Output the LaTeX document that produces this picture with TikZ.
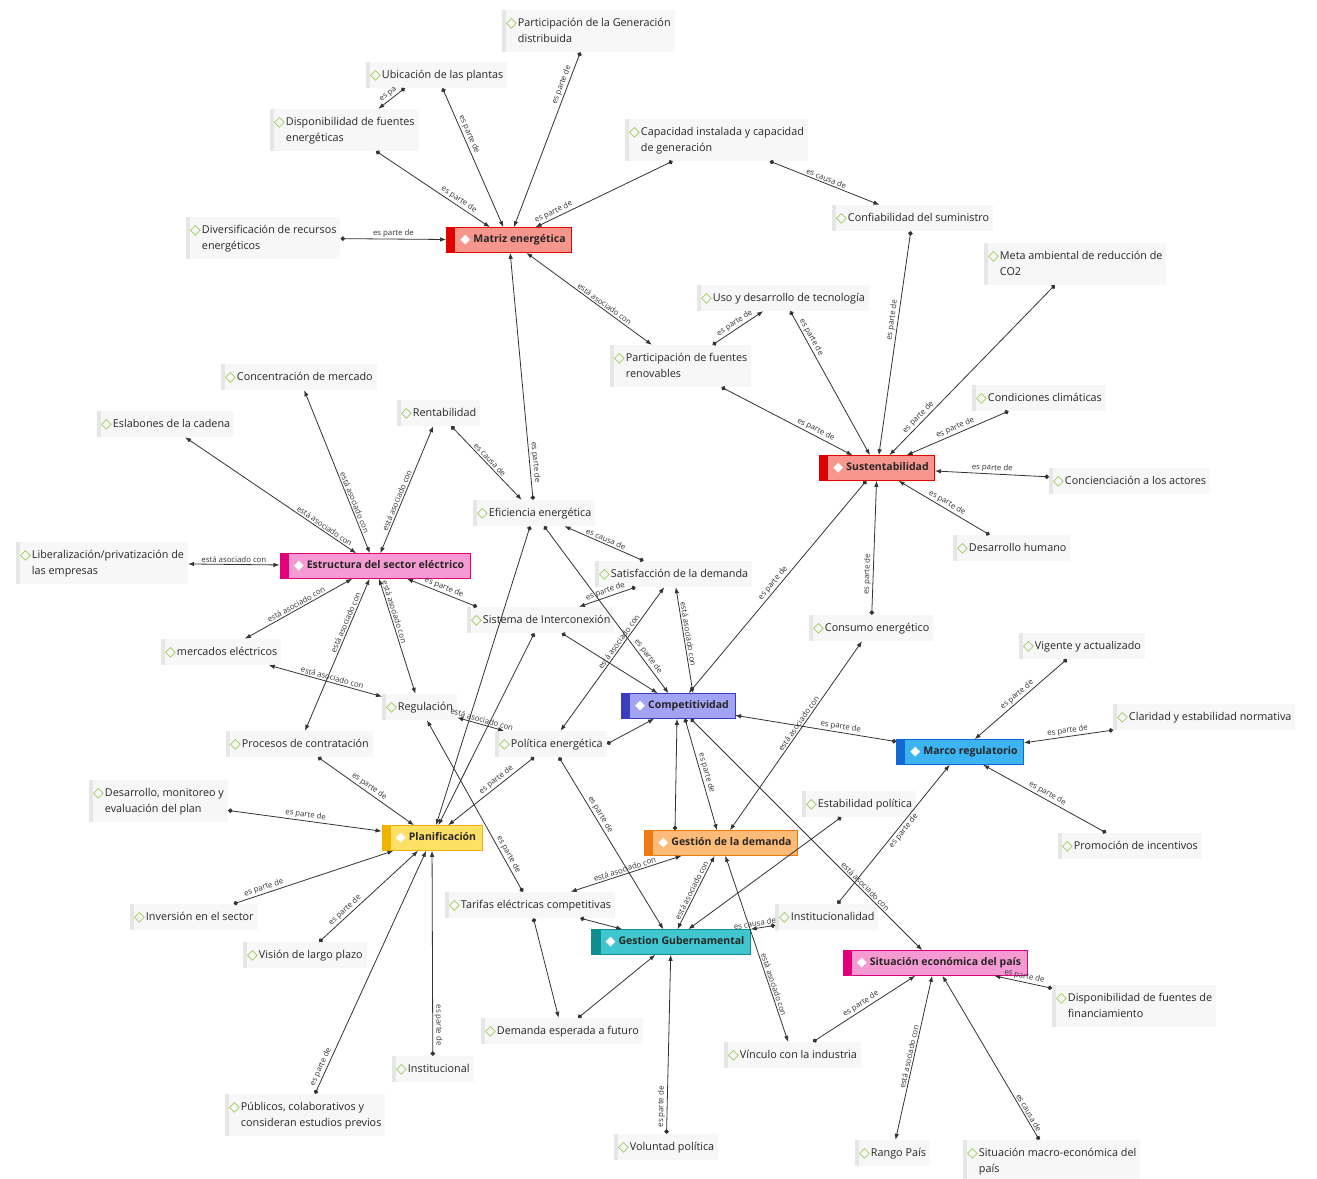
\documentclass[tikz,border=0pt]{standalone}
\usepackage{fontspec}
\setmainfont{Open Sans}
\newfontfamily\symfont{DejaVu Sans}
\usetikzlibrary{arrows.meta, positioning}

\definecolor{leafgreen}{HTML}{8CC63F}
\definecolor{leafbg}{HTML}{F7F7F7}
\definecolor{leafbar}{HTML}{E6E6E6}
\definecolor{linegray}{HTML}{333333}
\definecolor{salmonfill}{HTML}{F7968D}
\definecolor{salmonbar}{HTML}{E00000}
\definecolor{pinkfill}{HTML}{F59AD3}
\definecolor{pinkbar}{HTML}{E2007A}
\definecolor{lavfill}{HTML}{A3A3F5}
\definecolor{lavbar}{HTML}{3C3CC0}
\definecolor{skyfill}{HTML}{3DB4F2}
\definecolor{skybar}{HTML}{1068D0}
\definecolor{yelfill}{HTML}{FFE066}
\definecolor{yelbar}{HTML}{F0B400}
\definecolor{orfill}{HTML}{FDBB77}
\definecolor{orbar}{HTML}{F07A10}
\definecolor{tealfill}{HTML}{3FC6CE}
\definecolor{tealbar}{HTML}{0E8E90}

\newcommand{\leaffont}{\fontsize{10.8}{16}\selectfont}
\newcommand{\hubfont}{\fontsize{10.5}{12}\selectfont\bfseries}
\newcommand{\lblfont}{\fontsize{7.8}{8}\selectfont}
\newcommand{\lt}[1]{\raisebox{-1pt}{\fontsize{14}{14}\selectfont\symfont\color{leafgreen}\symbol{"25C7}}\hspace{1pt}\begin{tabular}[t]{@{}l@{}}#1\end{tabular}}
\newcommand{\hi}{\hspace*{8pt}\raisebox{-1pt}{\fontsize{13}{13}\selectfont\symfont\color{white}\symbol{"25C6}}\hspace{3pt}}

\begin{document}
\begin{tikzpicture}[x=1pt, y=-1pt]
        % Styles
        \tikzstyle{leaf} = [rectangle, fill=leafbg, anchor=west, inner xsep=4pt,
        inner ysep=5pt, font=\leaffont, text=black!85,
        path picture={\fill[leafbar] (path picture bounding box.south west)
        rectangle ([xshift=4pt]path picture bounding box.north west);}]
        \tikzset{hub/.style 2 args={rectangle, fill=#1, draw=#2, line width=0.6pt,
        minimum height=25pt, inner xsep=6pt, font=\hubfont, text=black!85,
        path picture={\fill[#2] (path picture bounding box.south west)
        rectangle ([xshift=9pt]path picture bounding box.north west);}}}
        \tikzstyle{part} = [draw=linegray, line width=0.8pt,
        {Circle[length=4.5pt]}-{Latex[length=6pt, width=4.5pt]}]
        \tikzstyle{asoc} = [draw=linegray, line width=0.8pt,
        {Latex[length=6pt, width=4.5pt]}-{Latex[length=6pt, width=4.5pt]}]
        \tikzstyle{lbl} = [font=\lblfont, text=black!80, sloped, above, inner sep=1.5pt]

        \fill[white] (0,0) rectangle (1317,1178);
        \useasboundingbox (0,0) rectangle (1317,1178);

        % Hubs
        \node (mat) [hub={salmonfill}{salmonbar}] at (509,240) {\hi Matriz energética};
        \node (sust) [hub={salmonfill}{salmonbar}] at (877,468) {\hi Sustentabilidad};
        \node (estr) [hub={pinkfill}{pinkbar}] at (375,566) {\hi Estructura del sector eléctrico};
        \node (comp) [hub={lavfill}{lavbar}] at (678,706) {\hi Competitividad};
        \node (marco) [hub={skyfill}{skybar}] at (960,752) {\hi Marco regulatorio};
        \node (plan) [hub={yelfill}{yelbar}] at (432,838) {\hi Planificación};
        \node (gdem) [hub={orfill}{orbar}] at (721,843) {\hi Gestión de la demanda};
        \node (ggub) [hub={tealfill}{tealbar}] at (671,942) {\hi Gestion Gubernamental};
        \node (sitec) [hub={pinkfill}{pinkbar}] at (935,963) {\hi Situación económica del país};

        % Leaves
        \node (gendis) [leaf] at (502,31) {\lt{Participación de la Generación\\distribuida}};
        \node (ubic) [leaf] at (366,75) {\lt{Ubicación de las plantas}};
        \node (dispo) [leaf] at (270,130) {\lt{Disponibilidad de fuentes\\energéticas}};
        \node (divers) [leaf] at (186,238) {\lt{Diversificación de recursos\\energéticos}};
        \node (capac) [leaf] at (625,140) {\lt{Capacidad instalada y capacidad\\de generación}};
        \node (confi) [leaf] at (832,218) {\lt{Confiabilidad del suministro}};
        \node (meta) [leaf] at (984,264) {\lt{Meta ambiental de reducción de\\CO2}};
        \node (uso) [leaf] at (697,298) {\lt{Uso y desarrollo de tecnología}};
        \node (renov) [leaf] at (610,366) {\lt{Participación de fuentes\\renovables}};
        \node (conc) [leaf] at (221,377) {\lt{Concentración de mercado}};
        \node (eslab) [leaf] at (97,424) {\lt{Eslabones de la cadena}};
        \node (rentab) [leaf] at (397,413) {\lt{Rentabilidad}};
        \node (clima) [leaf] at (972,398) {\lt{Condiciones climáticas}};
        \node (efic) [leaf] at (473,513) {\lt{Eficiencia energética}};
        \node (concien) [leaf] at (1049,481) {\lt{Concienciación a los actores}};
        \node (deshum) [leaf] at (953,548) {\lt{Desarrollo humano}};
        \node (liber) [leaf] at (16,563) {\lt{Liberalización/privatización de\\las empresas}};
        \node (satis) [leaf] at (595,574) {\lt{Satisfacción de la demanda}};
        \node (sist) [leaf] at (467,620) {\lt{Sistema de Interconexión}};
        \node (consumo) [leaf] at (809,628) {\lt{Consumo energético}};
        \node (merc) [leaf] at (161,652) {\lt{mercados eléctricos}};
        \node (vigente) [leaf] at (1019,646) {\lt{Vigente y actualizado}};
        \node (regul) [leaf] at (382,707) {\lt{Regulación}};
        \node (claridad) [leaf] at (1113,717) {\lt{Claridad y estabilidad normativa}};
        \node (polit) [leaf] at (495,744) {\lt{Política energética}};
        \node (proc) [leaf] at (226,744) {\lt{Procesos de contratación}};
        \node (desmon) [leaf] at (89,801) {\lt{Desarrollo, monitoreo y\\evaluación del plan}};
        \node (estab) [leaf] at (802,804) {\lt{Estabilidad política}};
        \node (promo) [leaf] at (1058,846) {\lt{Promoción de incentivos}};
        \node (inver) [leaf] at (130,917) {\lt{Inversión en el sector}};
        \node (tarif) [leaf] at (445,905) {\lt{Tarifas eléctricas competitivas}};
        \node (instit) [leaf] at (775,917) {\lt{Institucionalidad}};
        \node (vision) [leaf] at (243,955) {\lt{Visión de largo plazo}};
        \node (finan) [leaf] at (1052,1006) {\lt{Disponibilidad de fuentes de\\financiamiento}};
        \node (demfut) [leaf] at (481,1031) {\lt{Demanda esperada a futuro}};
        \node (vinc) [leaf] at (724,1055) {\lt{Vínculo con la industria}};
        \node (instal) [leaf] at (392,1069) {\lt{Institucional}};
        \node (public) [leaf] at (225,1115) {\lt{Públicos, colaborativos y\\consideran estudios previos}};
        \node (volunt) [leaf] at (614,1147) {\lt{Voluntad política}};
        \node (rango) [leaf] at (855,1153) {\lt{Rango País}};
        \node (macro) [leaf] at (963,1161) {\lt{Situación macro-económica del\\país}};

        % Matriz energética
        \draw[part] ([xshift=-32]ubic.south) -- node[lbl]{es pa} ([xshift=34]dispo.north);
        \draw[part] (ubic) -- node[lbl, pos=.35]{es parte de} (mat);
        \draw[part] (dispo) -- node[lbl, pos=.7]{es parte de} (mat);
        \draw[part] (gendis) -- node[lbl, pos=.2]{es parte de} (mat);
        \draw[part] (capac) -- node[lbl, pos=.85]{es parte de} (mat);
        \draw[part] (divers) -- node[lbl]{es parte de} (mat);
        \draw[part] (capac) -- node[lbl]{es causa de} (confi);
        \draw[asoc] (mat) -- node[lbl, pos=.6]{está asociado con} (renov);
        \draw[part] (efic) -- node[lbl, pos=.15]{es parte de} (mat);

        % Sustentabilidad
        \draw[part] (renov) -- node[lbl, pos=.7]{es parte de} (sust);
        \draw[part] (uso) -- node[lbl, pos=.2]{es parte de} (sust);
        \draw[part] (confi) -- node[lbl, pos=.4]{es parte de} (sust);
        \draw[part] (meta) -- node[lbl, pos=.8]{es parte de} (sust);
        \draw[part] (clima) -- node[lbl]{es parte de} (sust);
        \draw[part] (concien) -- node[lbl]{es parte de} (sust);
        \draw[part] (deshum) -- node[lbl]{es parte de} (sust);
        \draw[part] (renov) -- node[lbl]{es parte de} (uso);
        \draw[part] (consumo) -- node[lbl, pos=.3]{es parte de} (sust);
        \draw[part] (sust) -- node[lbl, pos=.5]{es parte de} (comp);

        % Estructura del sector eléctrico
        \draw[asoc] (liber) -- node[lbl]{está asociado con} (estr);
        \draw[asoc] (eslab) -- node[lbl, pos=.8]{está asociado con} (estr);
        \draw[asoc] (conc) -- node[lbl, pos=.7]{está asociado con} (estr);
        \draw[asoc] (rentab) -- node[lbl, pos=.6]{está asociado con} (estr);
        \draw[asoc] (estr) -- node[lbl]{está asociado con} (merc);
        \draw[asoc] (merc) -- node[lbl, pos=.55]{está asociado con} (regul);
        \draw[asoc] (estr) -- node[lbl, pos=.3]{está asociado con} (proc);
        \draw[asoc] (estr) -- node[lbl, pos=.3]{está asociado con} (regul);
        \draw[part] ([xshift=10]sist.north west) -- node[lbl]{es parte de} (estr);

        % Eficiencia energética
        \draw[part] (rentab) -- node[lbl]{es causa de} (efic);
        \draw[part] (satis) -- node[lbl]{es causa de} (efic);
        \draw[part] (efic) -- node[lbl, pos=.8]{es parte de} (comp);
        \draw[part] (efic) -- (plan);

        % Sistema de Interconexion y Satisfaccion
        \draw[part] (sist) -- (comp);
        \draw[part] (satis) -- node[lbl]{es parte de} (sist);
        \draw[asoc] (satis) -- node[lbl, pos=.4]{está asociado con} (polit);
        \draw[asoc] (satis) -- node[lbl, pos=.45]{está asociado con} ([xshift=15]comp.north);

        % Competitividad
        \draw[part] (marco) -- node[lbl, pos=.35]{es parte de} (comp);
        \draw[part] (polit.east) -- (comp);
        \draw[part] ([xshift=-46]gdem.north) -- ([xshift=-1]comp.south);
        \draw[part] ([xshift=7]comp.south) -- node[lbl]{es parte de} ([xshift=-4]gdem.north);
        \draw[asoc] (consumo) -- node[lbl, pos=.45]{está asociado con} (gdem);
        \draw[part] (comp) -- node[lbl, pos=.74]{está asociado con} (sitec);

        % Planificación
        \draw[part] (proc) -- node[lbl]{es parte de} (plan);
        \draw[part] (desmon) -- node[lbl]{es parte de} (plan);
        \draw[part] (inver) -- node[lbl, pos=.2]{es parte de} (plan);
        \draw[part] (vision) -- node[lbl, pos=.3]{es parte de} (plan);
        \draw[part] (public) -- node[lbl, pos=.1]{es parte de} (plan);
        \draw[part] (instal) -- node[lbl, pos=.15]{es parte de} (plan);
        \draw[part] (polit) -- node[lbl, pos=.4]{es parte de} (plan);

        % Gestion Gubernamental
        \draw[part] (volunt) -- node[lbl, pos=.15]{es parte de} (ggub);
        \draw[part] (demfut) -- (ggub);
        \draw[part] (tarif) -- (demfut);
        \draw[part] (polit) -- node[lbl, pos=.35]{es parte de} (ggub);
        \draw[part] (instit) -- node[lbl, pos=.8]{es causa de} (ggub);
        \draw[asoc] (gdem) -- node[lbl]{está asociado con} (ggub);
        \draw[part] (estab) -- (ggub);
        \draw[part] (tarif) -- (ggub);

        % Gestión de la demanda
        \draw[asoc] (tarif) -- node[lbl]{está asociado con} (gdem);
        \draw[asoc] (vinc) -- node[lbl, pos=.3]{está asociado con} (gdem);

        % Situación económica del país
        \draw[part] (vinc) -- node[lbl]{es parte de} (sitec);
        \draw[asoc] (sitec) -- node[lbl]{está asociado con} (rango);
        \draw[part] (macro) -- node[lbl, pos=.15]{es causa de} (sitec);
        \draw[part] (finan) -- node[lbl]{es parte de} (sitec);

        % Marco regulatorio
        \draw[part] (vigente) -- node[lbl]{es parte de} (marco);
        \draw[part] (claridad) -- node[lbl]{es parte de} (marco);
        \draw[part] (promo) -- node[lbl]{es parte de} (marco);
        \draw[part] (instit) -- node[lbl, pos=.55, below]{es parte de} (marco);

        % Regulación y Tarifas
        \draw[asoc] (regul) -- node[lbl]{está asociado con} (polit);
        \draw[part] (tarif) -- node[lbl, pos=.2]{es parte de} (regul);
        \draw[part] (sist) -- (plan);
    \end{tikzpicture}
\end{document}
